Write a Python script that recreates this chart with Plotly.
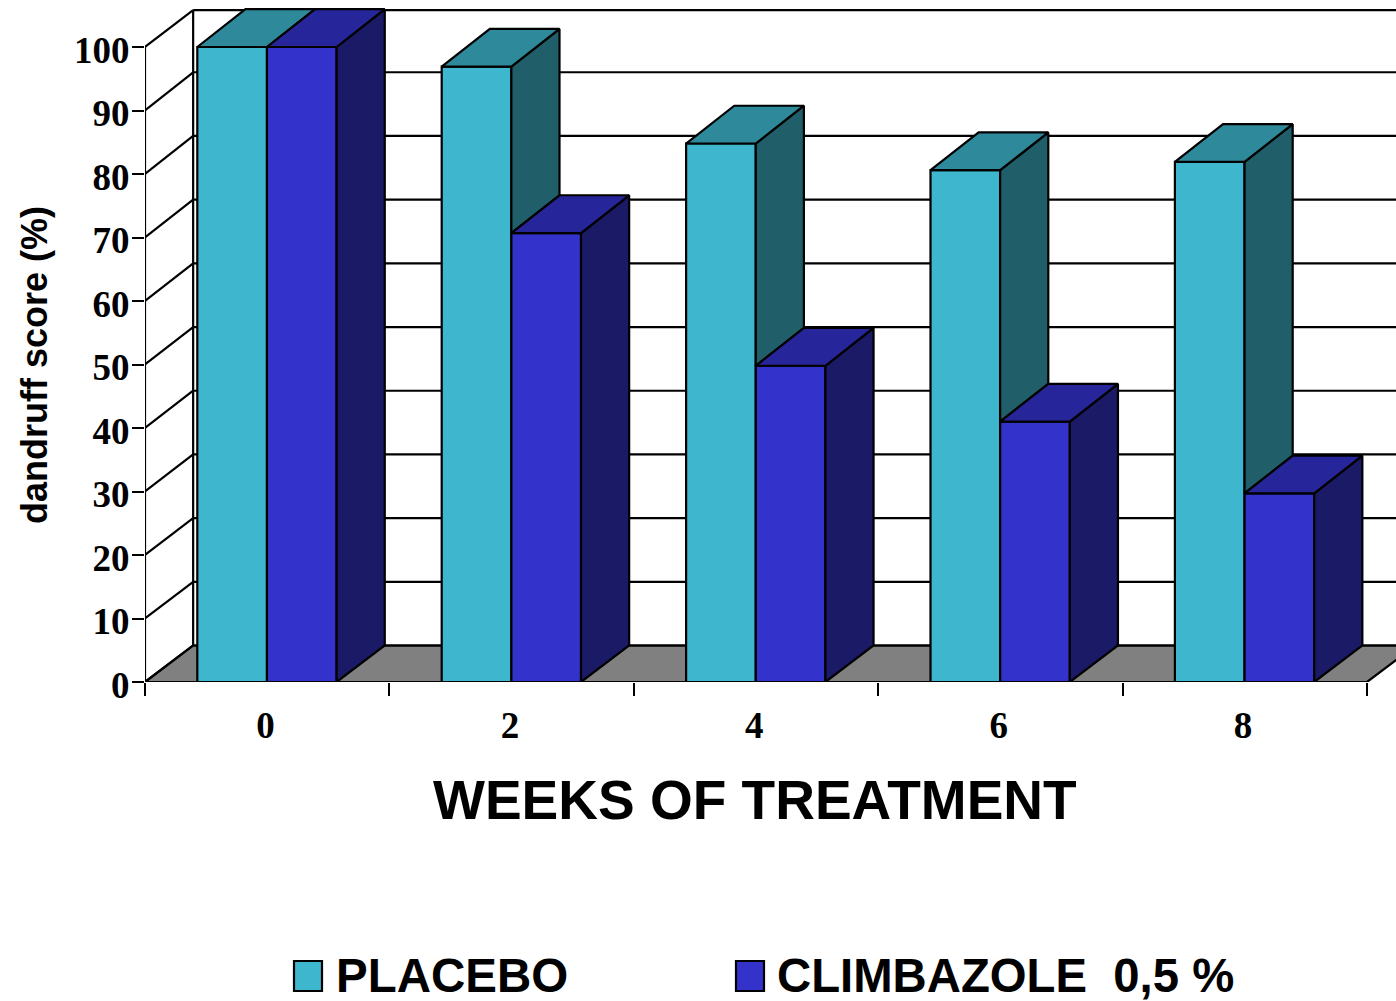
import plotly.graph_objects as go

weeks = ["0", "2", "4", "6", "8"]
placebo = [100.0, 96.9, 84.8, 80.6, 81.9]
climbazole = [100.0, 70.7, 49.8, 41.0, 29.7]
y_ticks = list(range(0, 101, 10))

CYAN = dict(front="#3EB6CE", top="#2E8A9A", side="#205E69")
BLUE = dict(front="#3333CC", top="#26269A", side="#1A1A66")
INK = "#000000"
W, H = 1396, 1001
L, B = 145, 1001 - 682
PX_X, PX_Y = 244.4, 6.35
DX, DY = 0.197, 5.75      # depth of the walls, in axis units
WALL_K = 1.003            # back-wall grid spacing relative to the front axis
WALL_TOP = 105.8          # top edge of the back wall
BAR_DY = 5.95             # depth of the bar tops, in axis units
START, BW = 0.214, 0.285  # bar start in a group and bar width
XMAX = (W - L) / PX_X
YMAX = (H - B) / PX_Y
n = len(weeks)
LW = 2.2

def px(x):
    return (x - L) / (W - L)

def py(y):
    return (H - B - y) / (H - B)

def back(v):
    return min(DY + v * WALL_K, WALL_TOP)

fig = go.Figure()
lefts = [i + START for i in range(n)]
mids = [x + BW for x in lefts]
fig.add_bar(x=lefts, y=placebo, name="PLACEBO", width=BW, offset=0,
            marker=dict(color=CYAN["front"], line=dict(color=INK, width=LW)), cliponaxis=False, showlegend=False)
fig.add_bar(x=mids, y=climbazole, name="CLIMBAZOLE 0,5 %", width=BW, offset=0,
            marker=dict(color=BLUE["front"], line=dict(color=INK, width=LW)), cliponaxis=False, showlegend=False)

def face(xs, ys, color):
    fig.add_scatter(x=xs, y=ys, mode="lines", fill="toself", fillcolor=color,
                    line=dict(color=INK, width=LW), hoverinfo="skip", showlegend=False, cliponaxis=False)

for i in range(n):
    a, b, c = lefts[i], mids[i], mids[i] + BW
    p, q = placebo[i], climbazole[i]
    # placebo side is visible only above the climbazole bar
    if p > q:
        face([b, b + DX, b + DX, b, b], [p, p + BAR_DY, q + BAR_DY, q, p], CYAN["side"])
    face([a, a + DX, b + DX, b, a], [p, p + BAR_DY, p + BAR_DY, p, p], CYAN["top"])
    face([c, c + DX, c + DX, c, c], [q, q + BAR_DY, DY, 0, q], BLUE["side"])
    face([b, b + DX, c + DX, c, b], [q, q + BAR_DY, q + BAR_DY, q, q], BLUE["top"])

# front frame of the box
fig.add_scatter(x=[0, 0, None, 0, n], y=[y_ticks[-1], 0, None, 0, 0], mode="lines",
                line=dict(color=INK, width=LW), hoverinfo="skip", showlegend=False, cliponaxis=False)

shapes = []
# floor
shapes.append(dict(type="path", layer="below", xref="x", yref="y",
                   path=f"M0,0 L{DX},{DY} L{n + DX},{DY} L{n},0 Z",
                   fillcolor="#808080", line=dict(color=INK, width=LW)))
# walls and grid
for v in y_ticks:
    shapes.append(dict(type="line", layer="below", xref="x", yref="y", x0=0, y0=v, x1=DX, y1=back(v),
                       line=dict(color=INK, width=LW)))
    shapes.append(dict(type="line", layer="below", xref="x", yref="y", x0=DX, y0=back(v), x1=n + DX, y1=back(v),
                       line=dict(color=INK, width=LW)))
shapes.append(dict(type="line", layer="below", xref="x", yref="y", x0=DX, y0=DY, x1=DX, y1=WALL_TOP,
                   line=dict(color=INK, width=LW)))
# legend swatches
for x0, x1, col in [(294, 322, CYAN["front"]), (736, 764, BLUE["front"])]:
    shapes.append(dict(type="rect", xref="paper", yref="paper", x0=px(x0), x1=px(x1), y0=py(991), y1=py(961),
                       fillcolor=col, line=dict(color=INK, width=LW)))

def note(text, x, y, size, font, anchor="left", angle=0):
    return dict(text=text, xref="paper", yref="paper", x=px(x), y=py(y), xanchor=anchor, yanchor="middle",
                showarrow=False, textangle=angle, font=dict(family=font, size=size, color=INK))

SANS = "Liberation Sans"
SERIF = "Liberation Serif"
annotations = [
    note("<b>WEEKS OF TREATMENT</b>", 755, 800, 55, SANS, "center"),
    note("<b>dandruff score (%)</b>", 34, 365, 36, SANS, "center", -90),
    note("<b>PLACEBO</b>", 334, 975, 47.5, SANS),
    note("<b>CLIMBAZOLE\u00a0 0,5 %</b>", 775, 975, 47.3, SANS),
]

fig.update_layout(
    width=W, height=H, margin=dict(l=L, r=0, t=0, b=B), autosize=False,
    paper_bgcolor="white", plot_bgcolor="white", barmode="overlay", showlegend=False,
    shapes=shapes, annotations=annotations,
    xaxis=dict(range=[0, XMAX], showgrid=False, zeroline=False, showline=False,
               tickmode="array", tickvals=[i + 0.493 for i in range(n)], ticktext=[f"<b>{w}</b>" for w in weeks],
               ticks="", ticklabelstandoff=18, tickfont=dict(family=SERIF, size=37, color=INK),
               minor=dict(tickmode="array", tickvals=list(range(n + 1)), ticks="outside", ticklen=13,
                          tickwidth=2, tickcolor=INK, showgrid=False)),
    yaxis=dict(range=[0, YMAX], showgrid=False, zeroline=False, showline=False,
               tickmode="array", tickvals=y_ticks, ticktext=[f"<b>{v}</b>" for v in y_ticks],
               ticks="outside", ticklen=12, tickwidth=2, tickcolor=INK, ticklabelstandoff=-5, ticklabelshift=3,
               tickfont=dict(family=SERIF, size=37, color=INK)),
)
fig.write_html("out.html", config=dict(displayModeBar=False),
               post_script="document.body.style.margin='0';document.documentElement.style.overflow='hidden';")
